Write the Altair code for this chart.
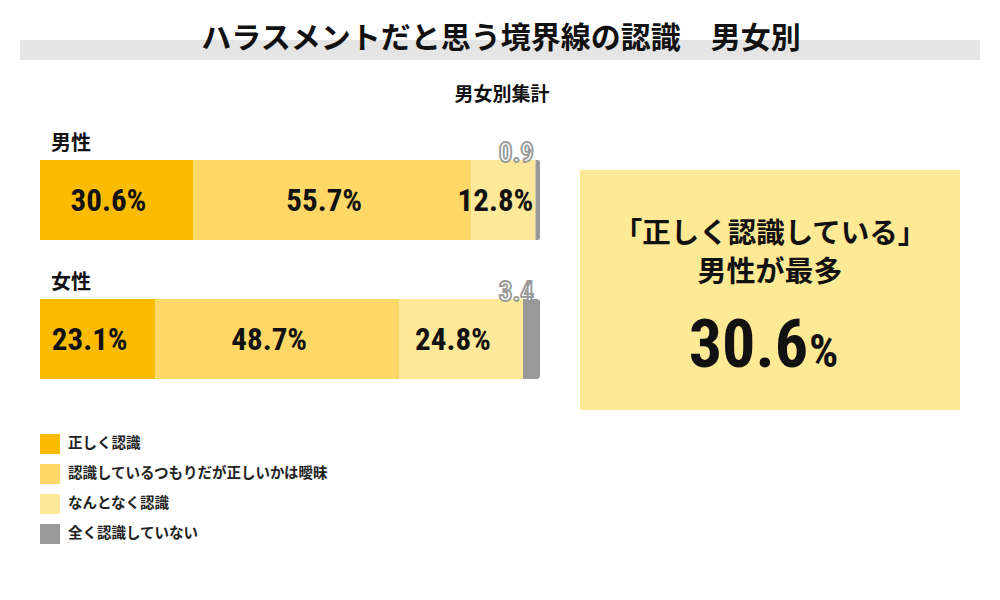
import altair as alt
import pandas as pd

# ---- data ----
genders = ["男性", "女性"]
responses = ["正しく認識", "認識しているつもりだが正しいかは曖昧", "なんとなく認識", "全く認識していない"]
male_values = [30.6, 55.7, 12.8, 0.9]
female_values = [23.1, 48.7, 24.8, 3.4]
colors = ["#FABB00", "#FDD866", "#FEE899", "#999999"]

title_text = "ハラスメントだと思う境界線の認識　男女別"
subtitle_text = "男女別集計"
box_line1 = "「正しく認識している」"
box_line2 = "男性が最多"
box_value = "30.6"
box_unit = "%"

JP = "Noto Sans CJK JP"
NUM = "Roboto Condensed, Roboto, sans-serif"

rows = []
for g, vals in zip(genders, [male_values, female_values]):
    start = 0.0
    for i, (r, v) in enumerate(zip(responses, vals)):
        rows.append({"gender": g, "response": r, "order": i, "value": v,
                     "start": start, "end": start + v, "mid": start + v / 2,
                     "label": f"{v:.1f}%", "small": f"{v:.1f}", "last": i == len(vals) - 1})
        start += v
df = pd.DataFrame(rows)
row_df = pd.DataFrame({"gender": genders, "zero": [0.0] * len(genders)})

xs = alt.Scale(domain=[0, 100], range=[32, 532])
ys = alt.Scale(domain=genders, range=[152, 371], paddingInner=0.424, paddingOuter=0)
X = lambda f: alt.X(f"{f}:Q", scale=xs, axis=None)
Y = alt.Y("gender:N", scale=ys, axis=None, sort=genders)

base = alt.Chart(df)

bars = base.transform_filter("!datum.last").mark_bar(stroke=None).encode(
    x=X("start"), x2="end", y=Y,
    color=alt.Color("response:N", scale=alt.Scale(domain=responses, range=colors),
                    sort=responses,
                    legend=alt.Legend(title=None, orient="none", legendX=32, legendY=426,
                                      symbolType="square", symbolSize=400, symbolStrokeWidth=0,
                                      symbolOpacity=1, labelFontSize=14.5, labelFont=JP,
                                      labelFontWeight="bold", labelColor="#222222",
                                      rowPadding=10, labelOffset=8, padding=0, labelLimit=600)),
)
gray = base.transform_filter("datum.last").mark_bar(
    cornerRadiusTopRight=3, cornerRadiusBottomRight=3).encode(
    x=X("start"), x2="end", y=Y,
    color=alt.Color("response:N", scale=alt.Scale(domain=responses, range=colors),
                    sort=responses, legend=None),
)
labels = base.transform_filter("!datum.last").mark_text(
    font=NUM, fontSize=31, fontWeight="bold", color="#111111", dy=2, dx=-8).encode(
    x=X("mid"), y=Y, text="label:N")
small = base.transform_filter("datum.last").mark_text(
    font=NUM, fontSize=27, fontWeight="bold", fill="white", stroke="#999999",
    strokeWidth=1.8, align="right", baseline="alphabetic", dx=-6, yOffset=-38).encode(
    x=X("end"), y=Y, text="small:N")
row_labels = alt.Chart(row_df).mark_text(
    font=JP, fontSize=20, fontWeight="bold", color="#111111", align="left",
    dx=11, yOffset=-56).encode(x=X("zero"), y=Y, text="gender:N")

one = pd.DataFrame({"t": [0]})
banner = alt.Chart(one).mark_rect(color="#E5E5E5").encode(
    x=alt.value(12), x2=alt.value(972), y=alt.value(32), y2=alt.value(52))
title = alt.Chart(pd.DataFrame({"t": [title_text]})).mark_text(
    font=JP, fontSize=30, fontWeight="bold", color="#111111", baseline="middle").encode(
    x=alt.value(493), y=alt.value(31), text="t:N")
subtitle = alt.Chart(pd.DataFrame({"t": [subtitle_text]})).mark_text(
    font=JP, fontSize=19, fontWeight="bold", color="#111111", baseline="middle").encode(
    x=alt.value(494), y=alt.value(87), text="t:N")

box = alt.Chart(one).mark_rect(color="#FEE994").encode(
    x=alt.value(572), x2=alt.value(952), y=alt.value(162), y2=alt.value(402))
bl1 = alt.Chart(pd.DataFrame({"t": [box_line1]})).mark_text(
    font=JP, fontSize=28.5, fontWeight="bold", color="#111111", baseline="middle").encode(
    x=alt.value(762), y=alt.value(226), text="t:N")
bl2 = alt.Chart(pd.DataFrame({"t": [box_line2]})).mark_text(
    font=JP, fontSize=29, fontWeight="bold", color="#111111", baseline="middle").encode(
    x=alt.value(762), y=alt.value(265), text="t:N")
bv = alt.Chart(pd.DataFrame({"t": [box_value]})).mark_text(
    font=NUM, fontSize=66, fontWeight="bold", color="#111111", align="right",
    baseline="alphabetic").encode(x=alt.value(800), y=alt.value(359), text="t:N")
bu = alt.Chart(pd.DataFrame({"t": [box_unit]})).mark_text(
    font=NUM, fontSize=46, fontWeight="bold", color="#111111", align="left",
    baseline="alphabetic").encode(x=alt.value(801), y=alt.value(359), text="t:N")

chart = alt.layer(banner, title, subtitle, bars, gray, labels, small, row_labels,
                  box, bl1, bl2, bv, bu).properties(
    width=984, height=584, padding=0, autosize=alt.AutoSizeParams(type="none"),
    background="white").configure_view(stroke=None)

chart.save("out.html", embed_options={"renderer": "svg", "actions": False})
